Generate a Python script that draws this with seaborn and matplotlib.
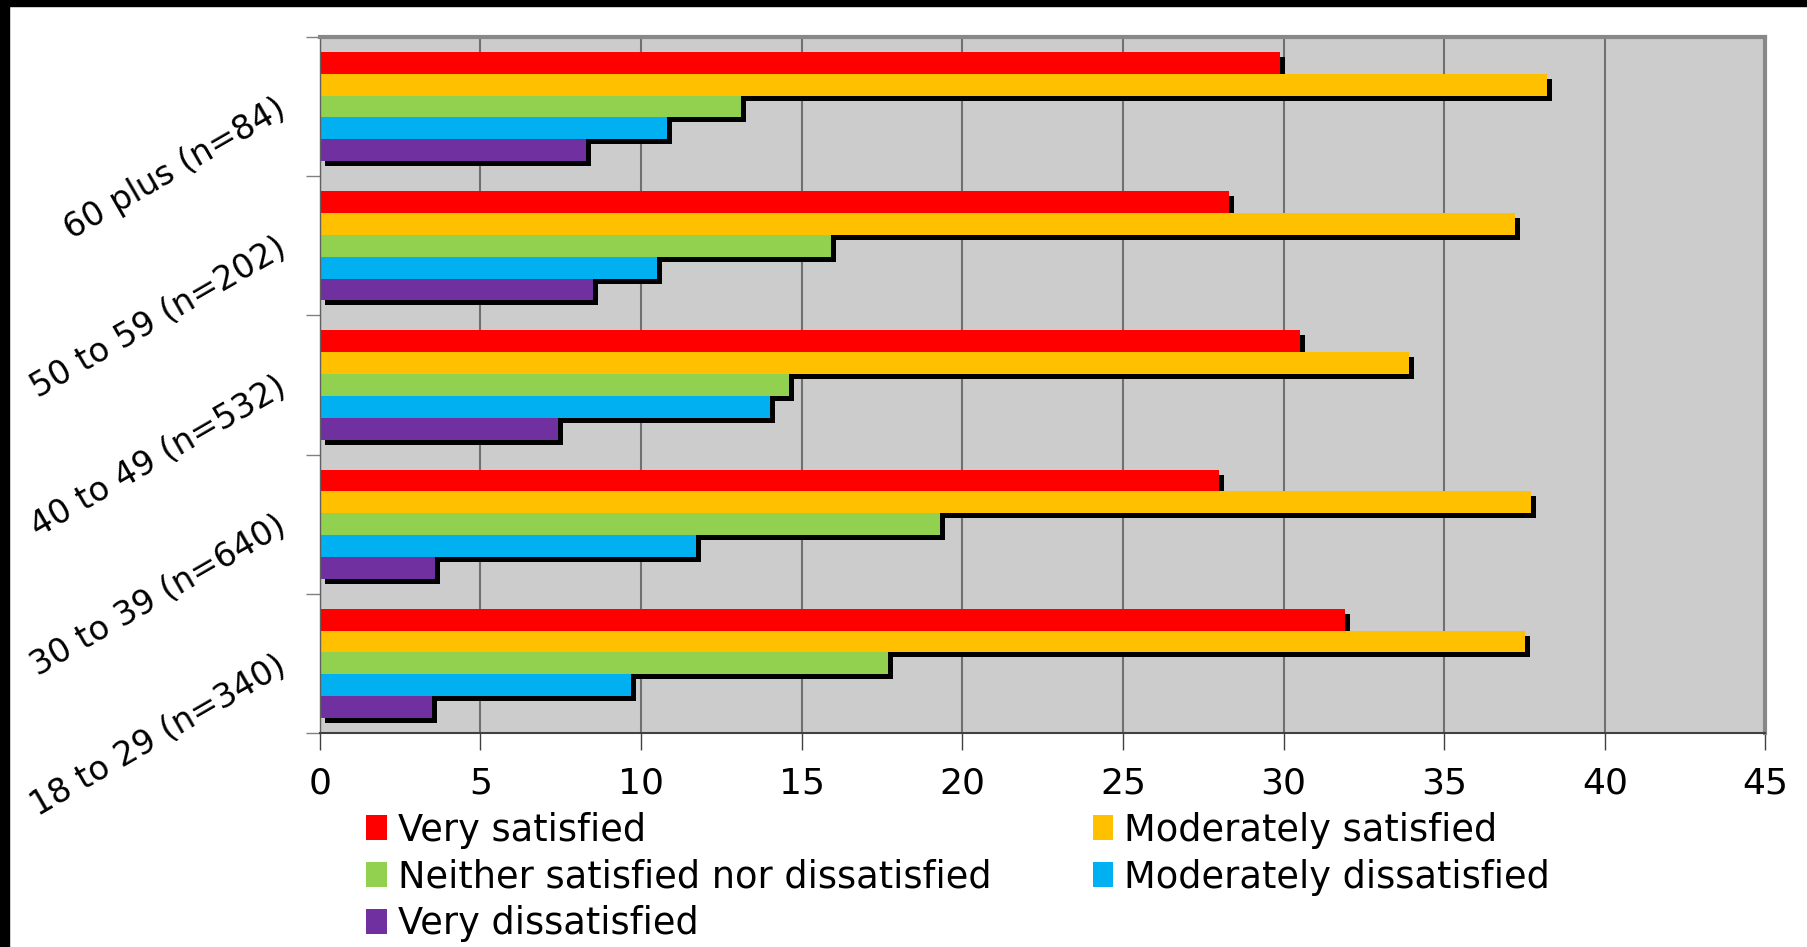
import pandas as pd
import matplotlib
matplotlib.use("Agg")
import matplotlib.pyplot as plt
import matplotlib.patheffects as pe
from matplotlib.patches import Rectangle, Patch
import seaborn as sns

# Data (percent)
groups = ["60 plus (n=84)", "50 to 59 (n=202)", "40 to 49 (n=532)",
          "30 to 39 (n=640)", "18 to 29 (n=340)"]
levels = ["Very satisfied", "Moderately satisfied",
          "Neither satisfied nor dissatisfied", "Moderately dissatisfied",
          "Very dissatisfied"]
very_satisfied = [29.9, 28.3, 30.5, 28.0, 31.9]
moderately_satisfied = [38.2, 37.2, 33.9, 37.7, 37.5]
neither = [13.1, 15.9, 14.6, 19.3, 17.7]
moderately_dissatisfied = [10.8, 10.5, 14.0, 11.7, 9.7]
very_dissatisfied = [8.3, 8.5, 7.4, 3.6, 3.5]
colors = ["#FF0000", "#FFC000", "#92D050", "#00B0F0", "#7030A0"]
x_ticks = [0, 5, 10, 15, 20, 25, 30, 35, 40, 45]

series = [very_satisfied, moderately_satisfied, neither,
          moderately_dissatisfied, very_dissatisfied]
rows = []
for lev, vals in zip(levels, series):
    for g, v in zip(groups, vals):
        rows.append({"group": g, "level": lev, "value": v})
df = pd.DataFrame(rows)

plt.rcParams["font.family"] = ["DejaVu Sans"]

fig = plt.figure(figsize=(18.07, 9.47), dpi=100)
ax = fig.add_axes([0.177, 0.226, 0.8, 0.735])
ax.set_facecolor("#CCCCCC")

sns.barplot(data=df, y="group", x="value", hue="level", order=groups,
            hue_order=levels, palette=colors, orient="h", width=0.785,
            saturation=1, linewidth=0, ax=ax, legend=False)

# drop shadow like the original
shadow = [pe.SimplePatchShadow(offset=(3.6, -3.6), shadow_rgbFace="black", alpha=1.0),
          pe.Normal()]
for p in ax.patches:
    p.set_path_effects(shadow)

ax.set_xlim(0, 45)
ax.set_ylim(len(groups) - 0.5, -0.5)
ax.set_xticks(x_ticks)
ax.set_xticklabels([str(t) for t in x_ticks], fontsize=26)
ax.tick_params(axis="x", length=12, width=1, color="#404040", pad=12)
ax.grid(axis="x", color="#707070", linewidth=1.5)
ax.set_axisbelow(True)

# group boundaries as ticks, labels centred
ax.set_yticks([i - 0.5 for i in range(len(groups) + 1)], minor=True)
ax.tick_params(axis="y", which="minor", length=10, width=1, color="#808080")
ax.tick_params(axis="y", which="major", length=0, pad=26)
ax.set_yticks(range(len(groups)))
ax.set_yticklabels(groups, fontsize=24, rotation=30, ha="right",
                   rotation_mode="anchor", va="center")
ax.set_xlabel("")
ax.set_ylabel("")

for side in ["top", "right"]:
    ax.spines[side].set_color("#888888")
    ax.spines[side].set_linewidth(3)
ax.spines["left"].set_color("#606060")
ax.spines["left"].set_linewidth(1)
ax.spines["bottom"].set_color("#404040")
ax.spines["bottom"].set_linewidth(1.5)

# legend, filled row by row like the original
handles = [Patch(facecolor=c, edgecolor="none") for c in colors]
order = [0, 2, 4, 1, 3]
fig.legend([handles[i] for i in order], [levels[i] for i in order],
           loc="upper left", bbox_to_anchor=(0.2028, 0.143), ncol=2,
           frameon=False, fontsize=26.5, handlelength=0.55, handleheight=0.65,
           handletextpad=0.3, labelspacing=0.27, columnspacing=2.75,
           borderpad=0, borderaxespad=0)

# black strips along the top and left edges
fig.patches.append(Rectangle((0, 1 - 6 / 947), 1, 6 / 947, transform=fig.transFigure,
                             color="black", zorder=10))
fig.patches.append(Rectangle((0, 0), 9 / 1807, 1, transform=fig.transFigure,
                             color="black", zorder=10))

fig.savefig("out.png", dpi=100, facecolor="white")
